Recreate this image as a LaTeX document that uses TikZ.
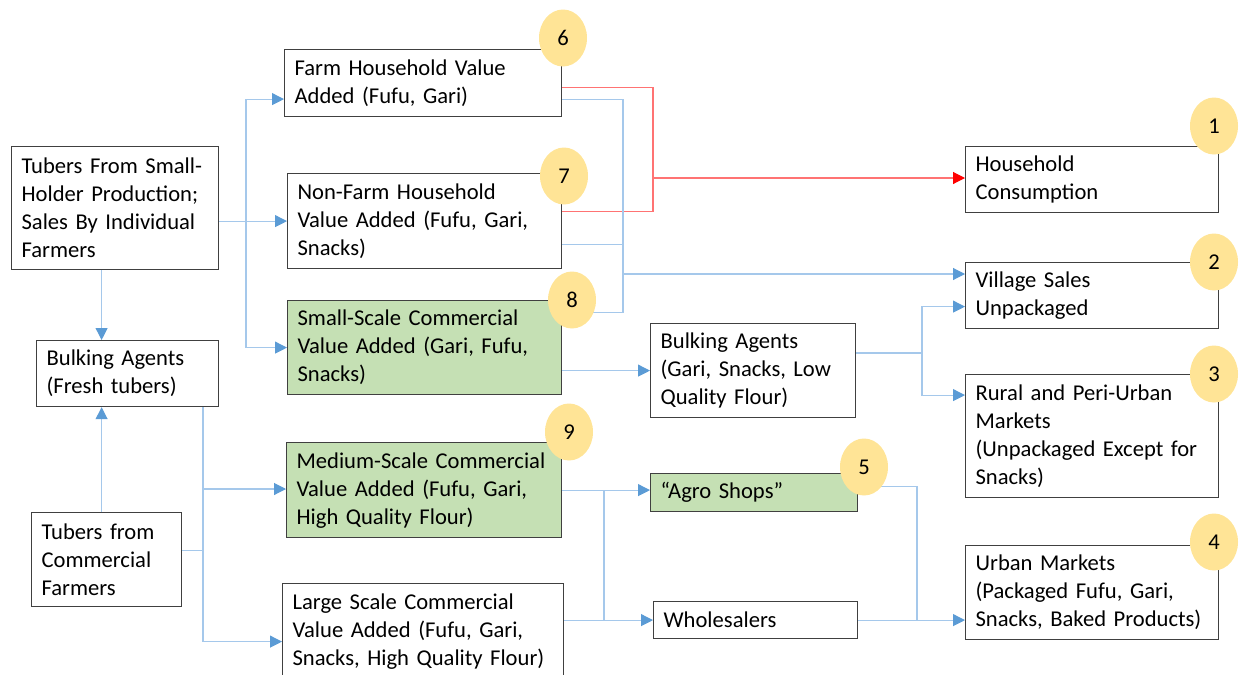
\documentclass[tikz,border=0pt]{standalone}
\usepackage{fontspec}
\setmainfont{Carlito}
\usetikzlibrary{arrows.meta,shapes.geometric}
\definecolor{lineblue}{RGB}{165,200,235}
\definecolor{tipblue}{RGB}{91,155,213}
\definecolor{linered}{RGB}{255,115,115}
\definecolor{boxgreen}{RGB}{197,224,180}
\definecolor{boxgray}{RGB}{64,64,64}
\definecolor{badgeyellow}{RGB}{255,228,150}

\begin{document}
\begin{tikzpicture}[x=1pt,y=-1pt,
  box/.style={draw=boxgray, line width=1.2pt, anchor=north west, align=left,
    inner xsep=10pt, inner ysep=0pt, font=\fontsize{22.6}{28}\selectfont},
  gbox/.style={box, fill=boxgreen},
  badge/.style={ellipse, fill=badgeyellow, minimum width=48pt, minimum height=57pt,
    inner sep=0pt, font=\fontsize{22.6}{28}\selectfont},
  bl/.style={lineblue, line width=1.1pt, >={Triangle[length=12pt,width=12pt,color=tipblue]}},
  rd/.style={linered, line width=1.1pt, >={Triangle[length=12pt,width=12pt,color=red]}}]

\useasboundingbox (0,0) rectangle (1243,675);

% sources
\node[box, minimum width=207pt, minimum height=123pt, text width=187pt] (small) at (11,146)
  {Tubers From Small-\\Holder Production;\\Sales By Individual\\Farmers};
\node[box, minimum width=182pt, minimum height=66pt, text width=162pt] (bulk) at (36,340)
  {Bulking Agents\\(Fresh tubers)};
\node[box, minimum width=150pt, minimum height=94pt, text width=130pt] (comm) at (31,512)
  {Tubers from\\Commercial\\Farmers};

% value added
\node[box, minimum width=277pt, minimum height=67pt, text width=257pt] (farm) at (284,49)
  {Farm Household Value\\Added (Fufu, Gari)};
\node[box, minimum width=274pt, minimum height=95pt, text width=254pt] (nonfarm) at (287,173)
  {Non-Farm Household\\Value Added (Fufu, Gari,\\Snacks)};
\node[gbox, minimum width=274pt, minimum height=94pt, text width=254pt] (sscale) at (287,300)
  {Small-Scale Commercial\\Value Added (Gari, Fufu,\\Snacks)};
\node[gbox, minimum width=275pt, minimum height=95pt, text width=255pt] (medium) at (286,442)
  {Medium-Scale Commercial\\Value Added (Fufu, Gari,\\High Quality Flour)};
\node[box, minimum width=281pt, minimum height=96pt, text width=261pt] (large) at (282,583)
  {Large Scale Commercial\\Value Added (Fufu, Gari,\\Snacks, High Quality Flour)};

% traders
\node[box, minimum width=205pt, minimum height=94pt, text width=185pt] (bulk2) at (650,323)
  {Bulking Agents\\(Gari, Snacks, Low\\Quality Flour)};
\node[gbox, minimum width=207pt, minimum height=38pt, text width=187pt] (agro) at (650,473)
  {“Agro Shops”};
\node[box, minimum width=204pt, minimum height=37pt, text width=184pt] (whole) at (653,601)
  {Wholesalers};

% markets
\node[box, minimum width=253pt, minimum height=66pt, text width=233pt] (house) at (965,146)
  {Household\\Consumption};
\node[box, minimum width=253pt, minimum height=66pt, text width=233pt] (village) at (965,262)
  {Village Sales\\Unpackaged};
\node[box, minimum width=253pt, minimum height=123pt, text width=233pt] (rural) at (965,374)
  {Rural and Peri-Urban\\Markets\\(Unpackaged Except for\\Snacks)};
\node[box, minimum width=253pt, minimum height=94pt, text width=233pt] (urban) at (965,545)
  {Urban Markets\\(Packaged Fufu, Gari,\\Snacks, Baked Products)};

\coordinate (j1) at (246,222);
\coordinate (j2) at (203,489);
\coordinate (jr) at (653,178);
\coordinate (jb) at (623,274);
\coordinate (jv) at (922,353);
\coordinate (jm) at (604,620);
\coordinate (jw) at (917,620);

% left part
\draw[bl,->] (small.east |- nonfarm.west) -- (nonfarm.west);
\draw[bl,<->] ([yshift=-16pt]farm.west) -| (j1) |- (sscale.west);
\draw[bl,->] ([xshift=-5pt]comm.north |- small.south) -- ([xshift=-5pt]comm.north |- bulk.north);
\draw[bl,->] ([xshift=-5pt]comm.north) -- ([xshift=-5pt]comm.north |- bulk.south);
\draw[bl,->] (bulk.south -| j2) |- ([yshift=-10pt]large.west);
\draw[bl,->] (j2) -- (j2 -| medium.west);
\draw[bl] ([yshift=9pt]comm.east) -- ([yshift=9pt]comm.east -| j2);

% to household consumption
\draw[rd] ([yshift=-4pt]farm.east) -| (jr);
\draw[rd] ([yshift=10pt]nonfarm.east) -| (jr);
\draw[rd,->] (jr) -- (jr -| house.west);

% to village sales
\draw[bl] ([yshift=-16pt]farm.east) -| (jb);
\draw[bl] ([yshift=-23pt]nonfarm.east) -| (jb);
\draw[bl] ([yshift=35pt]sscale.east) -| (jb);
\draw[bl,->] (jb) -- (jb -| village.west);

% traders
\draw[bl,->] (sscale.east |- bulk2.west) -- (bulk2.west);
\draw[bl] (bulk2.east |- jv) -- (jv);
\draw[bl,<->] ([yshift=-11pt]village.west) -| (jv) |- ([yshift=41pt]rural.west);
\draw[bl,->] (medium.east) -- (medium.east -| agro.west);
\draw[bl] (jm |- medium.east) -- (jm);
\draw[bl,->] (large.east |- whole.west) -- (whole.west);
\draw[bl,->] (whole.east) -- (whole.east -| urban.west);
\draw[bl] ([yshift=6pt]agro.east) -| (jw);

\foreach \n/\x/\y in {6/563/38, 7/564/176, 8/572/300, 9/569/432, 5/864/467,
                      1/1214/126, 2/1214/262, 3/1214/374, 4/1214/542}
  \node[badge] (b\n) at (\x,\y) {\n};

\end{tikzpicture}
\end{document}
